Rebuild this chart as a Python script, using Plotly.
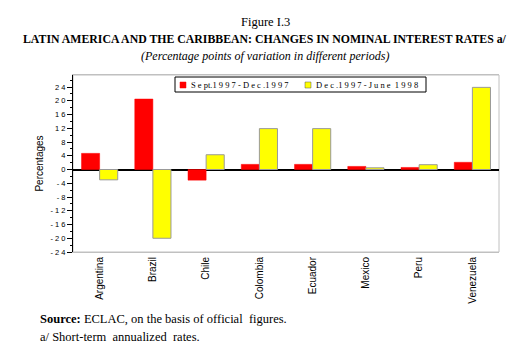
import plotly.graph_objects as go

countries = ["Argentina", "Brazil", "Chile", "Colombia", "Ecuador", "Mexico", "Peru", "Venezuela"]
sept_dec_1997 = [4.7, 20.5, -3.1, 1.5, 1.5, 0.9, 0.6, 2.1]
dec97_june98 = [-3.0, -20.0, 4.3, 11.9, 11.9, 0.5, 1.4, 23.9]
series_names = ["S e pt.1 9 9 7 - D e c .1 9 9 7", "D e c .1 9 9 7 - J u n e  1 9 9 8"]
series_colors = ["#ff0000", "#ffff00"]
tick_vals = [-24, -20, -16, -12, -8, -4, 0, 4, 8, 12, 16, 20, 24]
tick_text = ["- 2 4", "- 2 0", "- 1 6", "- 1 2", "- 8", "- 4", "0", "4", "8", "1 2", "1 6", "2 0", "2 4"]

# page body has an 8px margin; design in page coordinates minus this offset
OFF = 8
W, H = 529 - 2 * OFF, 355 - 2 * OFF
L, T = 73 - OFF, 75 - OFF
R = W - (499 - OFF)
B = H - (252 - OFF)
PW, PH = W - L - R, H - T - B


def px(x):
    return (x - OFF - L) / PW


def py(y):
    return 1 - (y - OFF - T) / PH


fig = go.Figure()
fig.add_trace(go.Bar(x=countries, y=sept_dec_1997, name=series_names[0],
                     marker=dict(color=series_colors[0], line=dict(color=series_colors[0], width=0.5))))
fig.add_trace(go.Bar(x=countries, y=dec97_june98, name=series_names[1],
                     marker=dict(color=series_colors[1], line=dict(color="#999999", width=1))))

serif = "Liberation Serif"
narrow = "Liberation Sans Narrow, Liberation Sans"
fig.update_layout(
    width=W, height=H,
    paper_bgcolor="white", plot_bgcolor="white",
    margin=dict(l=L, r=R, t=T, b=B, autoexpand=False),
    barmode="group", bargap=0.32, bargroupgap=0,
    showlegend=False,
    font=dict(family=serif, color="black"),
)
fig.update_xaxes(
    showline=True, linecolor="#c0c0c0", linewidth=1, mirror=True, automargin=False,
    showgrid=False, ticks="", tickangle=-90,
    tickfont=dict(family=narrow, size=10, color="black"),
)
fig.update_yaxes(
    range=[-24, 27.5], tickvals=tick_vals, ticktext=tick_text, automargin=False,
    showgrid=False, zeroline=True, zerolinecolor="black", zerolinewidth=1.5,
    showline=True, linecolor="black", linewidth=1,
    ticks="outside", ticklen=5, tickcolor="black", tickwidth=1,
    minor=dict(dtick=2, tick0=0, ticks="outside", ticklen=2, tickcolor="black"),
    tickfont=dict(family="Liberation Sans", size=7.5, color="black"),
    title=dict(text="Percentages", font=dict(family=narrow, size=10, color="black"), standoff=4),
)
fig.add_shape(type="rect", xref="paper", yref="paper", x0=0, x1=1, y0=0, y1=1,
              line=dict(color="#c0c0c0", width=1), layer="below")

# legend box (custom, to match the compact original)
fig.add_shape(type="rect", xref="paper", yref="paper", x0=px(175), x1=px(426), y0=py(92), y1=py(77),
              line=dict(color="black", width=1), fillcolor="white", layer="above")
legend_items = [(180, 189), (305, 314)]
for (sx, tx), name, col in zip(legend_items, series_names, series_colors):
    fig.add_shape(type="rect", xref="paper", yref="paper", x0=px(sx), x1=px(sx + 6), y0=py(88), y1=py(82),
                  line=dict(color="#555555" if col == "#ffff00" else col, width=0.5), fillcolor=col, layer="above")
    fig.add_annotation(text=name, xref="paper", yref="paper", x=px(tx), y=py(85),
                       xanchor="left", yanchor="middle", showarrow=False,
                       font=dict(family=serif, size=8.5, color="black"))

annos = [
    ("Figure I.3", 22, 12.5),
    ("<b>LATIN AMERICA AND THE CARIBBEAN: CHANGES IN NOMINAL INTEREST RATES a/</b>", 39, 11.8),
    ("<i>(Percentage points of variation in different periods)</i>", 56, 12),
]
for text, yy, size in annos:
    fig.add_annotation(text=text, xref="paper", yref="paper",
                       x=px(265), y=py(yy),
                       xanchor="center", yanchor="middle", showarrow=False,
                       font=dict(family=serif, size=size, color="black"))
foot = [
    ("<b>Source:</b> ECLAC, on the basis of official  figures.", 319),
    ("a/ Short-term  annualized  rates.", 337),
]
for t, yy in foot:
    fig.add_annotation(text=t, xref="paper", yref="paper",
                       x=px(38), y=py(yy),
                       xanchor="left", yanchor="middle", showarrow=False,
                       font=dict(family=serif, size=12.5, color="black"))

fig.write_html("out.html")
